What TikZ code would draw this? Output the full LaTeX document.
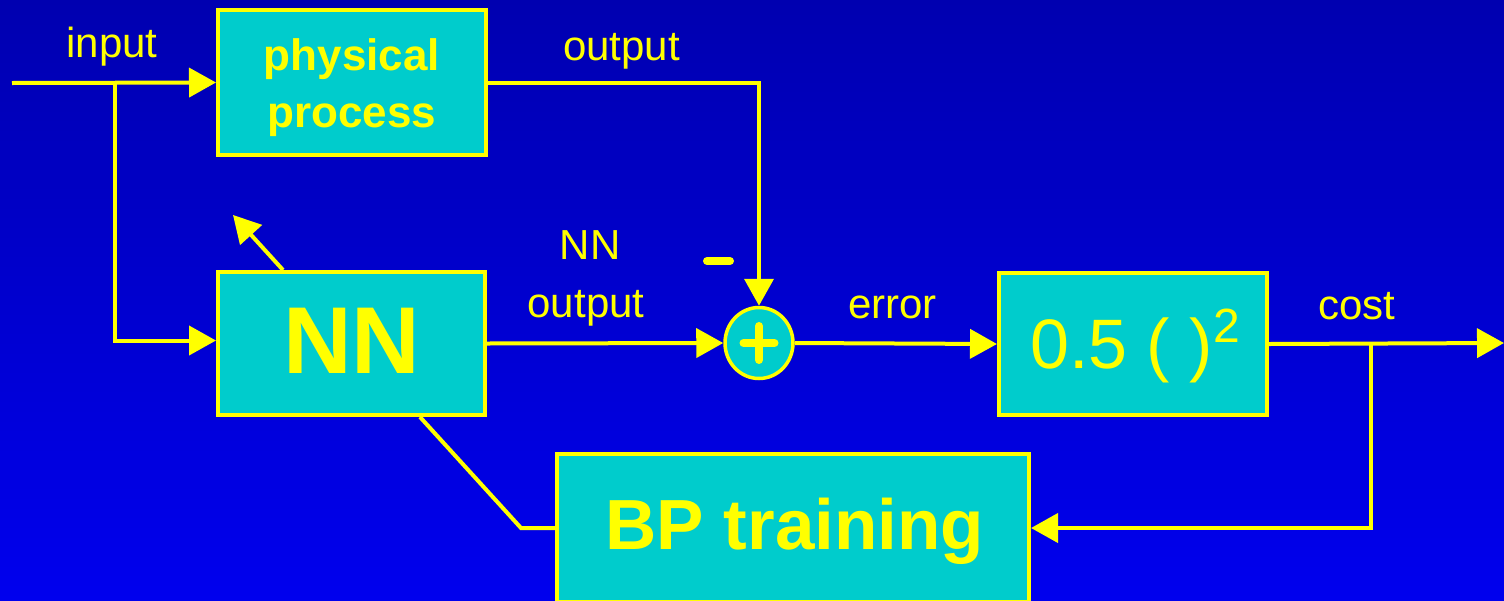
\documentclass[tikz,border=0pt]{standalone}
\usepackage{fontspec}
\setmainfont{Liberation Sans}
\usetikzlibrary{arrows.meta,shapes.geometric}
\definecolor{yy}{RGB}{255,255,0}
\definecolor{cy}{RGB}{0,204,204}
\definecolor{bgtop}{RGB}{0,0,176}
\definecolor{bgbot}{RGB}{0,0,238}
\begin{document}
\begin{tikzpicture}[x=1pt,y=-1pt,
 blk/.style={draw=yy, fill=cy, line width=4pt, rectangle, inner sep=0pt},
 sumnode/.style={draw=yy, fill=cy, line width=3.5pt, ellipse, inner sep=0pt, minimum width=68pt, minimum height=71pt},
 ln/.style={draw=yy, line width=4pt},
 arr/.style={ln, -{Triangle[length=27pt,width=29pt]}},
 lbl/.style={text=yy, font=\fontsize{42}{50}\selectfont, anchor=base, inner sep=0pt},
 btxt/.style={text=yy, anchor=base, inner sep=0pt},
 bar/.style={draw=yy, line width=8pt, line cap=round}]
\useasboundingbox (0,0) rectangle (1504,600);
\clip (0,0) rectangle (1504,600);
\shade[top color=bgtop, bottom color=bgbot] (0,0) rectangle (1504,600);

% boxes
\node[blk, minimum width=268pt, minimum height=145pt] (pp) at (352,82.5) {};
\node[blk, minimum width=267pt, minimum height=143pt] (nn) at (351.5,343.5) {};
\node[blk, minimum width=268pt, minimum height=142pt] (sq) at (1133,344) {};
\node[blk, minimum width=472pt, minimum height=148pt] (bp) at (793,528) {};
\node[sumnode] (s) at (759,343) {};

% box texts
\node[btxt, font=\bfseries\fontsize{44}{57}\selectfont] (tpp1) at (352,70) {physical};
\node[btxt, font=\bfseries\fontsize{44}{57}\selectfont] (tpp2) at (352,127) {process};
\node[btxt, font=\bfseries\fontsize{95}{100}\selectfont] (tnn) at (352,373) {NN};
\node[btxt, font=\bfseries\fontsize{71}{80}\selectfont] (tbp) at (795,549) {BP training};
\node[btxt, anchor=base west, font=\fontsize{70}{80}\selectfont] (tsq) at (1030,368) {0.5 ( )\raisebox{26pt}{\fontsize{48}{50}\selectfont 2}};

% labels
\node[lbl] (linput) at (112,57) {input};
\node[lbl] (lout) at (621.5,60) {output};
\node[lbl] (lnn1) at (590,259) {NN};
\node[lbl] (lnn2) at (586,317) {output};
\node[lbl] (lerr) at (892.5,318) {error};
\node[lbl] (lcost) at (1357,319) {cost};

% coordinates
\coordinate (src) at (12,83);
\coordinate (j1) at (115,83);
\coordinate (out) at (1504,343);
\coordinate (j2) at (1371,344);
\coordinate (k) at (521,528);
\coordinate (up) at (233,215);
\coordinate (m1) at (707,261);
\coordinate (m2) at (730,261);

% connectors
\draw[arr] (src) -- (pp.west);
\draw[arr] (j1) |- ([yshift=3pt]nn.west);
\draw[arr] (pp.east) -| (s.north);
\draw[arr] (nn.east) -- (s.west);
\draw[arr] (s.east) -- (sq.west);
\draw[arr] (sq.east) -- (out);
\draw[arr] (j2) |- (bp.east);
\draw[ln] (bp.west) -- (k) -- ([xshift=68.5pt]nn.south);
\draw[arr] ([xshift=-68.5pt]nn.north) -- (up);

% signs
\draw[bar] (m1) -- (m2);
\draw[bar] ([xshift=-15.5pt]s.center) -- ([xshift=15.5pt]s.center);
\draw[bar] ([yshift=17pt]s.center) -- ([yshift=-17pt]s.center);
\end{tikzpicture}
\end{document}
